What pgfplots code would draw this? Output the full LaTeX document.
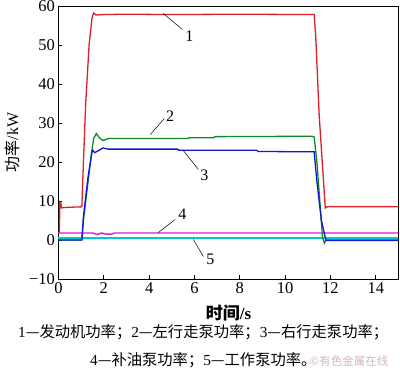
\documentclass[border=0pt]{standalone}
\usepackage{fontspec}
\setmainfont{Liberation Serif}
\newfontfamily\cjk{Noto Sans CJK SC}
\usepackage{pgfplots}
\pgfplotsset{compat=1.18}
\definecolor{cRed}{RGB}{225,30,40}
\definecolor{cGreen}{RGB}{20,135,40}
\definecolor{cBlue}{RGB}{15,25,210}
\definecolor{cMag}{RGB}{210,30,210}
\definecolor{cCyan}{RGB}{0,200,210}
\begin{document}
\begin{tikzpicture}
\useasboundingbox (-58.5pt,-100pt) rectangle (341.5pt,279pt);
\begin{axis}[
  scale only axis, width=340pt, height=273pt,
  xmin=0, xmax=15, ymin=-10, ymax=60,
  xtick={0,2,...,14}, ytick={-10,0,...,60},
  yticklabels={−10,0,10,20,30,40,50,60},
  xtick pos=bottom, ytick pos=left, tick align=inside,
  major tick length=4pt,
  axis line style={line width=0.8pt},
  every tick/.style={black, line width=0.7pt},
  ticklabel style={font=\fontsize{16.5}{19}\selectfont},
  /pgf/number format/assume math mode=true,
  clip=false,
]
\addplot[cCyan, line width=2pt] coordinates {(0,0.6) (15,0.6)};
\addplot[cMag, line width=1.4pt] coordinates {(0,1.8) (1.5,1.8) (1.7,1.4) (1.9,1.8) (2.1,1.5) (2.35,1.5) (2.45,1.8) (15,1.8)};
\addplot[cRed, line width=1.3pt] coordinates {
(0,1.8) (0.04,2.2) (0.06,9.8) (0.1,9.6) (0.13,8.2) (0.2,8.3) (0.5,8.4) (1.0,8.5) (1.03,8.7)
(1.1,20) (1.2,35) (1.35,50) (1.48,57) (1.55,58.2) (1.65,57.7) (2,57.8) (3,57.9) (5,57.8)
(8,57.9) (11.0,57.8) (11.28,57.8) (11.35,52) (11.5,32) (11.77,8.2) (11.85,8.5) (15,8.5)};
\addplot[cGreen, line width=1.3pt] coordinates {
(0,0) (1.03,0) (1.1,5) (1.45,22) (1.55,26) (1.67,27.3) (1.8,26.2) (1.96,25.5) (2.2,26.0)
(5.7,26.0) (5.75,26.2) (6.85,26.2) (6.9,26.5) (11.2,26.6) (11.28,26.4) (11.4,20) (11.65,0.5)
(11.73,-0.8) (11.8,0) (15,0)};
\addplot[cBlue, line width=1.3pt] coordinates {
(0,0) (1.03,0) (1.1,6) (1.3,16) (1.48,22.6) (1.52,23) (1.6,22.4) (1.7,22.7) (1.96,23.6)
(2.2,23.3) (5.25,23.3) (5.3,23.0) (8.75,23.0) (8.8,22.7) (11.28,22.6) (11.4,15) (11.6,5)
(11.8,-0.1) (15,-0.1)};
% leader lines and labels
\draw[line width=0.5pt] (axis cs:4.62,58.1) -- (axis cs:5.46,54.0);
\node[font=\fontsize{16}{19}\selectfont] at (axis cs:5.77,52.2) {1};
\draw[line width=0.5pt] (axis cs:4.05,27.05) -- (axis cs:4.67,31.15);
\node[font=\fontsize{16}{19}\selectfont] at (axis cs:4.93,31.7) {2};
\draw[line width=0.5pt] (axis cs:5.51,22.9) -- (axis cs:6.17,18.1);
\node[font=\fontsize{16}{19}\selectfont] at (axis cs:6.44,16.5) {3};
\draw[line width=0.5pt] (axis cs:4.40,1.9) -- (axis cs:5.15,5.26);
\node[font=\fontsize{16}{19}\selectfont] at (axis cs:5.46,6.5) {4};
\draw[line width=0.5pt] (axis cs:5.95,0.13) -- (axis cs:6.39,-4.2);
\node[font=\fontsize{16}{19}\selectfont] at (axis cs:6.70,-5.0) {5};
% axis labels
\node[rotate=90, font=\fontsize{16}{19}\selectfont] at (rel axis cs:0,0.5) [yshift=46.5pt] {{\cjk 功率}/kW};
\node[font=\fontsize{17}{20}\selectfont\bfseries] at (rel axis cs:0.5,0) [yshift=-34pt] {{\cjk\bfseries 时间}/s};
% caption
\node[anchor=west, font=\fontsize{15.3}{18}\selectfont, inner sep=0pt] at (rel axis cs:0,0) [xshift=-40.5pt, yshift=-53pt]
  {1{\cjk —发动机功率；}2{\cjk —左行走泵功率；}3{\cjk —右行走泵功率；}};
\node[anchor=west, font=\fontsize{15.3}{18}\selectfont, inner sep=0pt] at (rel axis cs:0,0) [xshift=31.5pt, yshift=-81pt]
  {4{\cjk —补油泵功率；}5{\cjk —工作泵功率。}};
\node[anchor=west, font=\fontsize{11.5}{13}\selectfont, inner sep=0pt, text=red!25!gray!45] at (rel axis cs:0,0) [xshift=251pt, yshift=-82pt]
  {{\cjk ©有色金属在线}};
\end{axis}
\end{tikzpicture}
\end{document}
